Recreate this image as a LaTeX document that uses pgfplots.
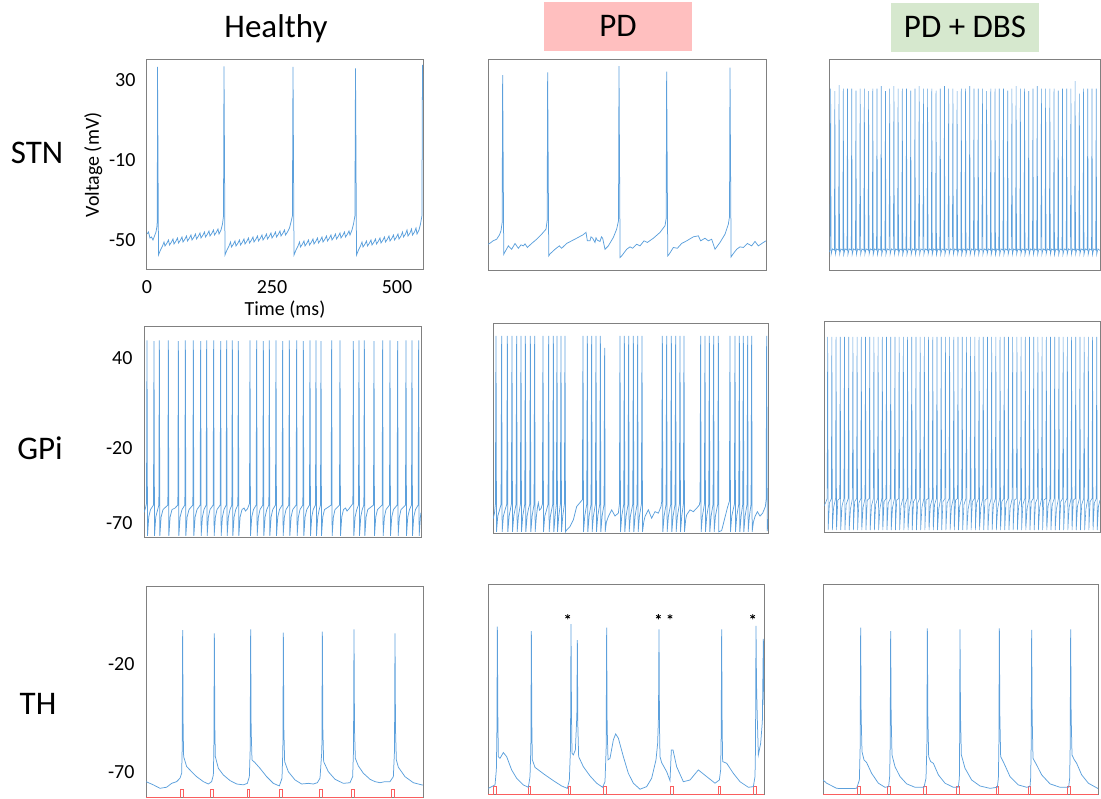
\documentclass[border=0pt]{standalone}
\usepackage{pgfplots}
\pgfplotsset{compat=1.18}
\usepackage{fontspec}
\setmainfont{Carlito}
\definecolor{trace}{RGB}{92,160,220}
\definecolor{framec}{RGB}{128,128,128}
\definecolor{pulse}{RGB}{250,95,95}
\definecolor{pdbox}{RGB}{255,191,191}
\definecolor{dbsbox}{RGB}{214,232,206}
\pgfplotsset{
  panel/.style={
    scale only axis, anchor=south west,
    axis line style={draw=framec, line width=1pt},
    xtick=\empty, ytick=\empty,
    major tick length=0pt,
    tick label style={font=\fontsize{20}{24}\selectfont},
    yticklabel style={xshift=-8pt},
    xticklabel style={yshift=-7pt},
    label style={font=\fontsize{20}{24}\selectfont},
  },
  tr/.style={draw=trace, line width=0.75pt, mark=none},
  trd/.style={draw=trace, line width=0.6pt, mark=none},
  pl/.style={draw=pulse, line width=0.75pt, mark=none},
}
\begin{document}
\begin{tikzpicture}
\path[use as bounding box] (0pt,0pt) rectangle (1101pt,799pt);
% titles
\node[anchor=base, font=\fontsize{33}{40}\selectfont] at (276pt,761pt) {Healthy};
\fill[pdbox] (544pt,748pt) rectangle (692pt,797pt);
\node[anchor=base, font=\fontsize{33}{40}\selectfont] at (618pt,762pt) {PD};
\fill[dbsbox] (891pt,747pt) rectangle (1039pt,796pt);
\node[anchor=base, font=\fontsize{33}{40}\selectfont] at (965pt,761pt) {PD + DBS};
% row labels
\node[anchor=base, font=\fontsize{33}{40}\selectfont] at (37pt,635pt) {STN};
\node[anchor=base, font=\fontsize{33}{40}\selectfont] at (40pt,339pt) {GPi};
\node[anchor=base, font=\fontsize{33}{40}\selectfont] at (38pt,84pt) {TH};

% ---------------- STN Healthy
\begin{axis}[panel, at={(147pt,529pt)}, width=276pt, height=210pt,
  xmin=0, xmax=552, ymin=-65, ymax=40,
  ytick={-50,-10,30}, yticklabels={-50,-10,30},
  xtick={0,250,500}, xticklabels={0,250,500},
  xlabel={Time (ms)}, ylabel={Voltage (mV)}]
\addplot[tr] coordinates {
(0,-47) (3,-46) (6,-49) (9,-48.5) (12,-50) (15,-48) (18,-46) (20,-43) (20.6,-40) (21,36.5) (21.8,0) (23,-57.5)
(27,-55) (31,-53) (34,-51) (36,-53) (40,-51.5) (43,-50) (45,-52.5) (49,-51) (52,-49.5) (54,-52) (58,-50.5) (61,-49) (63,-51.5) (67,-50) (70,-48.5) (72,-51) (76,-49.5) (79,-48) (81,-50.5) (85,-49) (88,-47.5) (90,-50) (94,-48.5) (97,-47) (99,-49.5) (103,-48) (106,-46.5) (108,-49) (112,-47.5) (115,-46) (117,-48.5) (121,-47) (124,-45.5) (126,-48) (130,-46.5) (133,-45) (135,-47.5) (139,-46) (142,-44.5) (144,-47) (148,-45) (151,-42) (153,-38) (154,36.8) (154.8,0) (156,-57.5)
(160,-55) (164,-53) (167,-51) (169,-53.5) (173,-52) (176,-50.5) (178,-53) (182,-51.5) (185,-50) (187,-52.5) (191,-51) (194,-49.5) (196,-52) (200,-50.5) (203,-49) (205,-51.5) (209,-50) (212,-48.5) (214,-51) (218,-49.5) (221,-48) (223,-50.5) (227,-49) (230,-47.5) (232,-50) (236,-48.5) (239,-47) (241,-49.5) (245,-48) (248,-46.5) (250,-49) (254,-47.5) (257,-46) (259,-48.5) (263,-47) (266,-45.5) (268,-48) (272,-46.5) (275,-45) (277,-47.5) (281,-46) (285,-44) (288,-41) (290.8,-38) (292,36.5) (292.8,0) (294,-57.5)
(298,-55) (302,-53) (305,-51) (307,-53.5) (311,-52) (314,-50.5) (316,-53) (320,-51.5) (323,-50) (325,-52.5) (329,-51) (332,-49.5) (334,-52) (338,-50.5) (341,-49) (343,-51.5) (347,-50) (350,-48.5) (352,-51) (356,-49.5) (359,-48) (361,-50.5) (365,-49) (368,-47.5) (370,-50) (374,-48.5) (377,-47) (379,-49.5) (383,-48) (386,-46.5) (388,-49) (392,-47.5) (395,-46) (397,-48.5) (401,-47) (404,-45.5) (406,-47.5) (410,-45) (413,-42) (415.8,-38) (417,35.8) (417.8,0) (419,-57.5)
(423,-55) (427,-53) (430,-51) (432,-53.5) (436,-52) (439,-50.5) (441,-53) (445,-51.5) (448,-50) (450,-52.5) (454,-51) (457,-49.5) (459,-52) (463,-50.5) (466,-49) (468,-51.5) (472,-50) (475,-48.5) (477,-51) (481,-49.5) (484,-48) (486,-50.5) (490,-49) (493,-47.5) (495,-50) (499,-48.5) (502,-47) (504,-49.5) (508,-48) (511,-46) (513,-48.5) (517,-47) (520,-45) (522,-48) (526,-46.5) (529,-44.5) (531,-47.5) (535,-46) (538,-44) (540,-47) (544,-45) (547,-42) (549.8,-38) (551,37.5) (552,20)
};
\end{axis}

% ---------------- STN PD
\begin{axis}[panel, at={(488pt,528pt)}, width=278pt, height=211pt,
  xmin=0, xmax=556, ymin=-65, ymax=40]
\addplot[tr] coordinates {
(0,-51.7) (5,-51) (10,-50) (17.3,-49.2) (23,-47) (26,-45) (28.3,-41)
(29.3,32.5) (30.1,0) (31.5,-56.7) (34,-55.5)
(40.7,-52.5) (47.3,-54.2) (54,-51.3) (60.7,-53.7) (66,-52) (70.7,-52.5) (74,-51.5) (78.7,-53.3) (87.3,-51.3) (97.3,-49.2) (107.3,-46.7) (116,-44.2) (118.3,-40)
(119.3,33.8) (120.1,0) (121.5,-57.5) (124,-56.5)
(134,-54.2) (142.7,-52.5) (147.3,-53.7) (157.3,-51.3) (167.3,-50) (177.3,-48.7) (190,-47) (196,-45.8) (198.7,-50) (204,-50) (206,-48) (209.3,-48.7) (214,-50.8) (216,-48.5) (218.7,-49.7) (224,-50.3) (227,-48) (229.3,-48.7) (234,-54.2) (240.7,-52.5) (250.7,-48.3) (257.3,-44.2) (261,-40)
(262,37) (262.8,0) (264.2,-58.3) (267.3,-57.5)
(277.3,-54.2) (284,-53) (289.3,-53.7) (297.3,-51.7) (304,-52.5) (312,-50) (318.7,-50.8) (330.7,-48.7) (344,-45.8) (354,-42.5) (356.3,-39)
(357.3,34.2) (358.1,0) (359.5,-57.5) (362.7,-56.5)
(370.7,-53.3) (378.7,-53.7) (387.3,-51.3) (397.3,-50) (410.7,-48) (420.7,-47.5) (425.3,-50) (434,-48.7) (440.7,-50) (447.3,-49.2) (454,-54.2) (464,-50.8) (474,-46.7) (480.7,-41.7) (483,-38)
(484,36.2) (484.8,0) (486.2,-58) (488.7,-57)
(497.3,-54.2) (504,-53) (510.7,-53.3) (518.7,-51.3) (527.3,-52.5) (534,-50.3) (540.7,-52.5) (550.7,-50.8) (556,-50)
};
\end{axis}

% ---------------- STN PD+DBS
\begin{axis}[panel, at={(829pt,528pt)}, width=271pt, height=211pt,
  xmin=0, xmax=542, ymin=-65, ymax=40]
\addplot[trd] coordinates {
(0,-55.5) (2.3,-54.6)
(3.3,25.8) (4.2,-56.8) (6.8,-54) (10.7,-54.6)
(11.7,24.5) (12.6,-56.8) (15.2,-54) (19.2,-54.6)
(20.2,27.5) (21.1,-56.8) (23.7,-54) (27.6,-54.6)
(28.6,25.8) (29.5,-56.8) (32.1,-54) (36,-54.6)
(37,25.8) (37.9,-56.8) (40.5,-54) (44.5,-54.6)
(45.5,25.8) (46.4,-56.8) (49,-54) (52.9,-54.6)
(53.9,24.8) (54.8,-56.8) (57.4,-54) (61.3,-54.6)
(62.3,25.8) (63.2,-56.8) (65.8,-54) (69.7,-54.6)
(70.7,25.8) (71.6,-56.8) (74.2,-54) (78.2,-54.6)
(79.2,24.5) (80.1,-56.8) (82.7,-54) (86.6,-54.6)
(87.6,25.8) (88.5,-56.8) (91.1,-54) (95,-54.6)
(96,25.8) (96.9,-56.8) (99.5,-54) (103.5,-54.6)
(104.5,27) (105.4,-56.8) (108,-54) (111.9,-54.6)
(112.9,24.5) (113.8,-56.8) (116.4,-54) (120.3,-54.6)
(121.3,25.8) (122.2,-56.8) (124.8,-54) (128.8,-54.6)
(129.8,27) (130.7,-56.8) (133.3,-54) (137.2,-54.6)
(138.2,25.8) (139.1,-56.8) (141.7,-54) (145.6,-54.6)
(146.6,25.8) (147.5,-56.8) (150.1,-54) (154,-54.6)
(155,25.8) (155.9,-56.8) (158.5,-54) (162.5,-54.6)
(163.5,24.8) (164.4,-56.8) (167,-54) (170.9,-54.6)
(171.9,25.8) (172.8,-56.8) (175.4,-54) (179.3,-54.6)
(180.3,27) (181.2,-56.8) (183.8,-54) (187.8,-54.6)
(188.8,25.8) (189.7,-56.8) (192.3,-54) (196.2,-54.6)
(197.2,25.8) (198.1,-56.8) (200.7,-54) (204.6,-54.6)
(205.6,25.8) (206.5,-56.8) (209.1,-54) (213.1,-54.6)
(214.1,24.8) (215,-56.8) (217.6,-54) (221.5,-54.6)
(222.5,25.8) (223.4,-56.8) (226,-54) (229.9,-54.6)
(230.9,27) (231.8,-56.8) (234.4,-54) (238.3,-54.6)
(239.3,25.8) (240.2,-56.8) (242.8,-54) (246.8,-54.6)
(247.8,25.8) (248.7,-56.8) (251.3,-54) (255.2,-54.6)
(256.2,24.5) (257.1,-56.8) (259.7,-54) (263.6,-54.6)
(264.6,25.8) (265.5,-56.8) (268.1,-54) (272.1,-54.6)
(273.1,25.8) (274,-56.8) (276.6,-54) (280.5,-54.6)
(281.5,27) (282.4,-56.8) (285,-54) (288.9,-54.6)
(289.9,25.8) (290.8,-56.8) (293.4,-54) (297.4,-54.6)
(298.4,25.8) (299.3,-56.8) (301.9,-54) (305.8,-54.6)
(306.8,25.8) (307.7,-56.8) (310.3,-54) (314.2,-54.6)
(315.2,24.5) (316.1,-56.8) (318.7,-54) (322.6,-54.6)
(323.6,25.8) (324.5,-56.8) (327.1,-54) (331.1,-54.6)
(332.1,25.8) (333,-56.8) (335.6,-54) (339.5,-54.6)
(340.5,25.8) (341.4,-56.8) (344,-54) (347.9,-54.6)
(348.9,25.8) (349.8,-56.8) (352.4,-54) (356.4,-54.6)
(357.4,24.8) (358.3,-56.8) (360.9,-54) (364.8,-54.6)
(365.8,25.8) (366.7,-56.8) (369.3,-54) (373.2,-54.6)
(374.2,27) (375.1,-56.8) (377.7,-54) (381.7,-54.6)
(382.7,25.8) (383.6,-56.8) (386.2,-54) (390.1,-54.6)
(391.1,25.8) (392,-56.8) (394.6,-54) (398.5,-54.6)
(399.5,24.5) (400.4,-56.8) (403,-54) (406.9,-54.6)
(407.9,25.8) (408.8,-56.8) (411.4,-54) (415.4,-54.6)
(416.4,27) (417.3,-56.8) (419.9,-54) (423.8,-54.6)
(424.8,25.8) (425.7,-56.8) (428.3,-54) (432.2,-54.6)
(433.2,25.8) (434.1,-56.8) (436.7,-54) (440.7,-54.6)
(441.7,25.8) (442.6,-56.8) (445.2,-54) (449.1,-54.6)
(450.1,25.8) (451,-56.8) (453.6,-54) (457.5,-54.6)
(458.5,24.8) (459.4,-56.8) (462,-54) (466,-54.6)
(467,25.8) (467.9,-56.8) (470.5,-54) (474.4,-54.6)
(475.4,25.8) (476.3,-56.8) (478.9,-54) (482.8,-54.6)
(483.8,25.8) (484.7,-56.8) (487.3,-54) (491.2,-54.6)
(492.2,29.5) (493.1,-56.8) (495.7,-54) (499.7,-54.6)
(500.7,23.3) (501.6,-56.8) (504.2,-54) (508.1,-54.6)
(509.1,25.8) (510,-56.8) (512.6,-54) (516.5,-54.6)
(517.5,25.8) (518.4,-56.8) (521,-54) (525,-54.6)
(526,25.8) (526.9,-56.8) (529.5,-54) (533.4,-54.6)
(534.4,25.8) (535.3,-56.8) (537.9,-54) (542,-54.8)
};
\end{axis}

% ---------------- GPi Healthy
\begin{axis}[panel, at={(144pt,261pt)}, width=277pt, height=211pt,
  xmin=0, xmax=554, ymin=-80, ymax=61,
  ytick={-70,-20,40}, yticklabels={-70,-20,40}]
\addplot[tr] coordinates {
(0,-63) (3,-60) (5,-57)
(6,52) (7,-78.5) (9.5,-66) (13,-61) (19,-58)
(20,51.5) (21,-78.5) (23.5,-66) (29.7,-58)
(30.7,52) (31.7,-78.5) (34.2,-66) (38,-61) (47.7,-58)
(48.7,52) (49.7,-78.5) (52.2,-66) (56,-61) (62,-60) (67.7,-58)
(68.7,51.5) (69.7,-78.5) (72.2,-66) (76,-61) (81.7,-58)
(82.7,52) (83.7,-78.5) (86.2,-66) (90,-61) (97.7,-58)
(98.7,52) (99.7,-78.5) (102.2,-66) (106,-61) (112.3,-58)
(113.3,51.5) (114.3,-78.5) (116.8,-66) (120,-61) (124.3,-58)
(125.3,52) (126.3,-78.5) (128.8,-66) (132,-61) (138.3,-58)
(139.3,52) (140.3,-78.5) (142.8,-66) (146,-61) (152.3,-58)
(153.3,51.5) (154.3,-78.5) (156.8,-66) (160,-61) (164.3,-58)
(165.3,52) (166.3,-78.5) (168.8,-66) (172,-61) (175.7,-58)
(176.7,52) (177.7,-78.5) (180.2,-66) (183.5,-61) (187.7,-58)
(188.7,51.5) (189.7,-78.5) (192.2,-66) (196,-61) (200,-60) (203,-62) (207,-60.5) (211,-57)
(212,52) (213,-78.5) (215.5,-66) (219,-61) (224.3,-58)
(225.3,52) (226.3,-78.5) (228.8,-66) (232,-61) (237.7,-58)
(238.7,51.5) (239.7,-78.5) (242.2,-66) (245.5,-61) (249.7,-58)
(250.7,52) (251.7,-78.5) (254.2,-66) (257.5,-61) (263,-58)
(264,52) (265,-78.5) (267.5,-66) (271,-61) (276.3,-58)
(277.3,51.5) (278.3,-78.5) (280.8,-66) (284,-61) (289.7,-58)
(290.7,52) (291.7,-78.5) (294.2,-66) (297.5,-61) (304.3,-58)
(305.3,52) (306.3,-78.5) (308.8,-66) (312,-61) (317.7,-58)
(318.7,51.5) (319.7,-78.5) (322.2,-66) (325.5,-61) (331,-58)
(332,52) (333,-78.5) (335.5,-66) (338.5,-61) (343,-58)
(344,52) (345,-78.5) (347.5,-66) (350.5,-61) (353,-58)
(354,51.5) (355,-78.5) (357.5,-66) (361,-61) (368,-59.5) (374.3,-58)
(375.3,52) (376.3,-78.5) (378.8,-66) (382,-61) (391,-58)
(392,52) (393,-78.5) (395.5,-66) (399,-61) (403,-60) (406,-62) (410,-60.5) (417.7,-57)
(418.7,51.5) (419.7,-78.5) (422.2,-66) (425.5,-61) (429,-58)
(430,52) (431,-78.5) (433.5,-66) (436.5,-61) (439.7,-58)
(440.7,52) (441.7,-78.5) (444.2,-66) (447.5,-61) (459,-58)
(460,51.5) (461,-78.5) (463.5,-66) (467,-61) (476.3,-58)
(477.3,52) (478.3,-78.5) (480.8,-66) (484,-61) (491,-58)
(492,52) (493,-78.5) (495.5,-66) (499,-61) (506.3,-58)
(507.3,51.5) (508.3,-78.5) (510.8,-66) (514,-61) (523,-58)
(524,52) (525,-78.5) (527.5,-66) (531,-61) (535,-58)
(536,52) (537,-78.5) (539.5,-66) (543,-61) (548.3,-58)
(549.3,52) (550.3,-78.5) (552.8,-66) (554,-63)
};
\end{axis}

% ---------------- GPi PD
\begin{axis}[panel, at={(493pt,265pt)}, width=275pt, height=210pt,
  xmin=0, xmax=550, ymin=-80, ymax=61]
\addplot[tr] coordinates {
(0,-70) (3,-66) (4.8,-60)
(6,53) (7,-78.5) (9.5,-68) (13,-64) (16.1,-60)
(17.3,53) (18.3,-78.5) (20.8,-68) (24,-64) (27.5,-60)
(28.7,53) (29.7,-78.5) (32.2,-68) (36.8,-60)
(38,53) (39,-78.5) (41.5,-68) (46.1,-60)
(47.3,53) (48.3,-78.5) (50.8,-68) (54.8,-60)
(56,53) (57,-78.5) (59.5,-68) (63.5,-60)
(64.7,53) (65.7,-78.5) (68.2,-68) (71,-63) (73.5,-60)
(74.7,53) (75.7,-78.5) (78.2,-68) (82.1,-60)
(83.3,53) (84.3,-78.5) (86.8,-68) (89,-62) (90.7,-59) (93,-64) (96,-63) (98.8,-60)
(100,53) (101,-78.5) (103.5,-68) (107,-64) (110.1,-60)
(111.3,53) (112.3,-78.5) (114.8,-68) (119.5,-60)
(120.7,53) (121.7,-78.5) (124.2,-68) (126.8,-60)
(128,53) (129,-78.5) (131.5,-68) (134.8,-60)
(136,53) (137,-78.5) (139.5,-68) (142.8,-60)
(144,53) (145,-78.5) (147.3,-77.3) (154,-75) (160.7,-70.5) (167.3,-61.6) (174,-58.9) (178.8,-57)
(180,53) (181,-78.5) (183.5,-68) (187.5,-60)
(188.7,53) (189.7,-78.5) (192.2,-68) (196.1,-60)
(197.3,53) (198.3,-78.5) (200.8,-68) (204.8,-60)
(206,53) (207,-78.5) (209.5,-68) (213.5,-60)
(214.7,53) (215.7,-78.5) (218.2,-68) (222.1,-60)
(223.3,45) (224.3,-78.5) (226.8,-72) (230.7,-68.3) (237.3,-63.8) (244,-67.9) (250.7,-66) (252.8,-60)
(254,53) (255,-78.5) (257.5,-68) (261.5,-60)
(262.7,53) (263.7,-78.5) (266.2,-68) (270.1,-60)
(271.3,53) (272.3,-78.5) (274.8,-68) (279.5,-60)
(280.7,53) (281.7,-78.5) (284.2,-68) (288.1,-60)
(289.3,53) (290.3,-78.5) (292.8,-68) (296.8,-60)
(298,53) (299,-78.5) (301.5,-72) (304,-68.3) (310.7,-63.8) (317.3,-69.4) (324,-65) (330.7,-66) (336,-61.6) (337.5,-58)
(338.7,53) (339.7,-78.5) (342.2,-68) (346.1,-60)
(347.3,53) (348.3,-78.5) (350.8,-68) (355.5,-60)
(356.7,53) (357.7,-78.5) (360.2,-68) (364.1,-60)
(365.3,53) (366.3,-78.5) (368.8,-68) (372.8,-60)
(374,53) (375,-78.5) (377.5,-68) (380.8,-60)
(382,53) (383,-78.5) (385.5,-70) (387.3,-67.2) (394,-63.8) (400.7,-65) (407.3,-62.7) (412.7,-60.5) (414.1,-58)
(415.3,53) (416.3,-78.5) (418.8,-68) (422.8,-60)
(424,53) (425,-78.5) (427.5,-68) (431.5,-60)
(432.7,53) (433.7,-78.5) (436.2,-68) (440.1,-60)
(441.3,53) (442.3,-78.5) (444.8,-68) (449.5,-60)
(450.7,53) (451.7,-78.5) (457.3,-77.7) (462.7,-70.5) (468.7,-62.5) (472.8,-58)
(474,53) (475,-78.5) (477.5,-68) (482.8,-60)
(484,53) (485,-78.5) (487.5,-68) (491.5,-60)
(492.7,53) (493.7,-78.5) (496.2,-68) (499.5,-60)
(500.7,53) (501.7,-78.5) (504.2,-68) (508.1,-60)
(509.3,53) (510.3,-78.5) (512.8,-68) (516.1,-60)
(517.3,53) (518.3,-78.5) (520.8,-72) (524,-68.3) (528.7,-65) (534,-68) (539.3,-66) (544.7,-61.6) (546.3,-57)
(547.3,53) (548.5,-78) (550,-70)
};
\end{axis}

% ---------------- GPi PD+DBS
\begin{axis}[panel, at={(824pt,266pt)}, width=276pt, height=211pt,
  xmin=0, xmax=552, ymin=-80, ymax=61]
\addplot[trd] coordinates {
(0,-62) (3,-60) (6.3,-57)
(7.3,51) (8.3,-78) (10.8,-60) (14.7,-57)
(15.7,51) (16.7,-78) (19.2,-63) (23.1,-57)
(24.1,51) (25.1,-78) (27.6,-58) (31.5,-57)
(32.5,51) (33.5,-78) (36,-62) (39.9,-57)
(40.9,51) (41.9,-78) (44.4,-61) (48.4,-57)
(49.4,51) (50.4,-78) (52.9,-64) (56.8,-57)
(57.8,51) (58.8,-78) (61.3,-59) (65.2,-57)
(66.2,51) (67.2,-78) (69.7,-60) (73.6,-57)
(74.6,51) (75.6,-78) (78.1,-63) (82,-57)
(83,51) (84,-78) (86.5,-58) (90.4,-57)
(91.4,51) (92.4,-78) (94.9,-62) (98.8,-57)
(99.8,51) (100.8,-78) (103.3,-61) (107.2,-57)
(108.2,51) (109.2,-78) (111.7,-64) (115.6,-57)
(116.6,51) (117.6,-78) (120.1,-59) (124,-57)
(125,51) (126,-78) (128.5,-60) (132.5,-57)
(133.5,51) (134.5,-78) (137,-63) (140.9,-57)
(141.9,51) (142.9,-78) (145.4,-58) (149.3,-57)
(150.3,51) (151.3,-78) (153.8,-62) (157.7,-57)
(158.7,51) (159.7,-78) (162.2,-61) (166.1,-57)
(167.1,51) (168.1,-78) (170.6,-64) (174.5,-57)
(175.5,51) (176.5,-78) (179,-59) (182.9,-57)
(183.9,51) (184.9,-78) (187.4,-60) (191.3,-57)
(192.3,51) (193.3,-78) (195.8,-63) (199.7,-57)
(200.7,51) (201.7,-78) (204.2,-58) (208.1,-57)
(209.1,51) (210.1,-78) (212.6,-62) (216.6,-57)
(217.6,51) (218.6,-78) (221.1,-61) (225,-57)
(226,51) (227,-78) (229.5,-64) (233.4,-57)
(234.4,51) (235.4,-78) (237.9,-59) (241.8,-57)
(242.8,51) (243.8,-78) (246.3,-60) (250.2,-57)
(251.2,51) (252.2,-78) (254.7,-63) (258.6,-57)
(259.6,51) (260.6,-78) (263.1,-58) (267,-57)
(268,51) (269,-78) (271.5,-62) (275.4,-57)
(276.4,51) (277.4,-78) (279.9,-61) (283.8,-57)
(284.8,51) (285.8,-78) (288.3,-64) (292.2,-57)
(293.2,51) (294.2,-78) (296.7,-59) (300.7,-57)
(301.7,51) (302.7,-78) (305.2,-60) (309.1,-57)
(310.1,51) (311.1,-78) (313.6,-63) (317.5,-57)
(318.5,51) (319.5,-78) (322,-58) (325.9,-57)
(326.9,51) (327.9,-78) (330.4,-62) (334.3,-57)
(335.3,51) (336.3,-78) (338.8,-61) (342.7,-57)
(343.7,51) (344.7,-78) (347.2,-64) (351.1,-57)
(352.1,51) (353.1,-78) (355.6,-59) (359.5,-57)
(360.5,51) (361.5,-78) (364,-60) (367.9,-57)
(368.9,51) (369.9,-78) (372.4,-63) (376.3,-57)
(377.3,51) (378.3,-78) (380.8,-58) (384.8,-57)
(385.8,51) (386.8,-78) (389.3,-62) (393.2,-57)
(394.2,51) (395.2,-78) (397.7,-61) (401.6,-57)
(402.6,51) (403.6,-78) (406.1,-64) (410,-57)
(411,51) (412,-78) (414.5,-59) (418.4,-57)
(419.4,51) (420.4,-78) (422.9,-60) (426.8,-57)
(427.8,51) (428.8,-78) (431.3,-63) (435.2,-57)
(436.2,51) (437.2,-78) (439.7,-58) (443.6,-57)
(444.6,51) (445.6,-78) (448.1,-62) (452,-57)
(453,51) (454,-78) (456.5,-61) (460.4,-57)
(461.4,51) (462.4,-78) (464.9,-64) (468.9,-57)
(469.9,51) (470.9,-78) (473.4,-59) (477.3,-57)
(478.3,51) (479.3,-78) (481.8,-60) (485.7,-57)
(486.7,51) (487.7,-78) (490.2,-63) (494.1,-57)
(495.1,51) (496.1,-78) (498.6,-58) (502.5,-57)
(503.5,51) (504.5,-78) (507,-62) (510.9,-57)
(511.9,51) (512.9,-78) (515.4,-61) (519.3,-57)
(520.3,51) (521.3,-78) (523.8,-64) (527.7,-57)
(528.7,51) (529.7,-78) (532.2,-59) (536.1,-57)
(537.1,51) (538.1,-78) (540.6,-60) (544.5,-57)
(545.5,51) (546.5,-78) (549,-62) (552,-58)
};
\end{axis}

% ---------------- TH Healthy
\begin{axis}[panel, at={(146pt,1pt)}, width=277pt, height=211pt,
  xmin=0, xmax=554, ymin=-82, ymax=16,
  ytick={-70,-20}, yticklabels={-70,-20}]
\addplot[pl] coordinates {
(0,-81.5) (68.6,-81.5) (68.6,-78) (74,-78) (74,-81.5) (128.6,-81.5) (128.6,-78) (134,-78) (134,-81.5) (202,-81.5) (202,-78) (207.4,-78) (207.4,-81.5) (267.3,-81.5) (267.3,-78) (272.7,-78) (272.7,-81.5) (346.6,-81.5) (346.6,-78) (352,-78) (352,-81.5) (410.6,-81.5) (410.6,-78) (416,-78) (416,-81.5) (490.6,-81.5) (490.6,-78) (496,-78) (496,-81.5) (554,-81.5)
};
\addplot[tr] coordinates {
(0,-74.4) (14.7,-75.9) (28,-77.5) (41.3,-77) (51.3,-75.2) (61.3,-74.4) (68,-72.8) (71.3,-70.5) (72.3,-60)
(73.3,-4) (74.3,-50) (75.3,-62.8) (81.3,-67.4) (91.3,-69.8) (101.3,-72.1) (114.7,-74.4) (124.7,-75.5) (131.3,-74.4) (134.7,-71.3) (135.7,-60)
(136.7,-5.5) (137.7,-50) (138.7,-62.8) (144.7,-68.2) (154.7,-71.3) (168,-73.9) (181.3,-75.5) (194.7,-75.9) (202.7,-75.2) (206.7,-72.1) (208.3,-60)
(209.3,-3.7) (210.3,-50) (212,-64.3) (218,-65.6) (228,-68.2) (241.3,-72.1) (254.7,-75.2) (266.7,-76.4) (272,-72.8) (273.7,-60)
(274.7,-5.2) (275.7,-50) (277.3,-65.1) (284.7,-69.8) (298,-73.6) (311.3,-75.5) (324.7,-75.2) (334.7,-75.5) (342.7,-74.9) (348,-72.8) (351.7,-60)
(352.7,-4.7) (353.7,-50) (355.3,-65.1) (364.7,-69.8) (378,-73.3) (394.7,-75.2) (408,-74.9) (413.3,-72.1) (415,-60)
(416,-3.7) (417,-50) (418.7,-63.6) (424.7,-67.1) (434.7,-70.5) (448,-73.3) (458,-74.4) (468,-74.9) (478,-74.4) (488,-74.4) (494.7,-72.1) (497,-60)
(498,-5.5) (499,-50) (500.7,-64.3) (504.7,-67.7) (518,-72.1) (534.7,-74.9) (551.3,-75.9) (554,-76)
};
\end{axis}

% ---------------- TH PD
\begin{axis}[panel, at={(488pt,4pt)}, width=276pt, height=210pt,
  xmin=0, xmax=552, ymin=-82, ymax=16]
\addplot[pl] coordinates {
(0,-81.5) (11.3,-81.5) (11.3,-78) (16.7,-78) (16.7,-81.5) (80,-81.5) (80,-78) (85.4,-78) (85.4,-81.5) (160,-81.5) (160,-78) (165.4,-78) (165.4,-81.5) (231.3,-81.5) (231.3,-78) (236.7,-78) (236.7,-81.5) (364.6,-81.5) (364.6,-78) (370,-78) (370,-81.5) (460,-81.5) (460,-78) (465.4,-78) (465.4,-81.5) (531.3,-81.5) (531.3,-78) (536.7,-78) (536.7,-81.5) (552,-81.5)
};
\addplot[tr] coordinates {
(0.7,-78.9) (7.3,-78.1) (14,-77.3) (16.7,-70.3) (17.7,-55)
(18.7,-3.4) (19.7,-45) (20.7,-64.1) (24,-64.9) (30.7,-62.2) (37.3,-64.1) (47.3,-70.3) (57.3,-74.2) (70.7,-77.3) (80.7,-78.4) (84,-73.4) (85.7,-60)
(86.7,-5.5) (87.7,-50) (88.7,-65.6) (94,-69.1) (100.7,-70.3) (114,-72.6) (130.7,-75.3) (147.3,-77.8) (158.7,-78.9) (162.7,-75) (165,-60)
(166,-2.3) (167,-45) (168,-62.5) (170.7,-63.3) (174.7,-61) (177.7,-45)
(178.7,-9.7) (179.7,-50) (181.3,-64.1) (190.7,-68.8) (204,-73.1) (217.3,-76.5) (229.3,-78.4) (234,-75.8) (236.3,-60)
(237.3,-3.9) (238.3,-50) (240,-65.6) (244,-64.9) (250.7,-56.3) (255.3,-53.5) (260.7,-55.5) (270.7,-64.1) (280.7,-71.9) (290.7,-76.5) (304,-79.3) (317.3,-78.1) (327.3,-74.2) (336,-65.6) (339.3,-57.9) (341,-45)
(342,-4.7) (343,-50) (344,-64.1) (347.3,-66.9) (357.3,-71.1) (364,-75.3) (366.7,-61) (370,-61) (377.3,-68.8) (390.7,-75.8) (404,-75) (420.7,-70.3) (437.3,-73.4) (454,-76.5) (462.7,-75) (465.3,-70.3) (466.3,-55)
(467.3,-4.7) (468.3,-50) (469.3,-66.4) (477.3,-67.2) (490.7,-71.9) (504,-75.8) (520.7,-78.4) (530.7,-78.1) (534,-73.4) (535,-60)
(536,-3.1) (537,-30) (538.7,-47) (540.7,-63.3) (545.3,-57.9) (548.7,-47.8) (550.7,-9.2) (552,-40)
};
\addplot[only marks, mark=asterisk, mark size=2.6pt, black, mark options={line width=0.8pt}] coordinates {
(159.3,1.2) (340.7,1.2) (364,1.2) (529.3,1.2)
};
\end{axis}

% ---------------- TH PD+DBS
\begin{axis}[panel, at={(823pt,4pt)}, width=275pt, height=210pt,
  xmin=0, xmax=550, ymin=-82, ymax=16]
\addplot[pl] coordinates {
(0,-81.5) (69.3,-81.5) (69.3,-78) (74.7,-78) (74.7,-81.5) (129.3,-81.5) (129.3,-78) (134.7,-78) (134.7,-81.5) (201.3,-81.5) (201.3,-78) (206.7,-78) (206.7,-81.5) (266.6,-81.5) (266.6,-78) (272,-78) (272,-81.5) (346,-81.5) (346,-78) (351.4,-78) (351.4,-81.5) (410,-81.5) (410,-78) (415.4,-78) (415.4,-81.5) (488.6,-81.5) (488.6,-78) (494,-78) (494,-81.5) (550,-81.5)
};
\addplot[tr] coordinates {
(0,-75) (7.3,-76.5) (27.3,-78.9) (47.3,-79) (67.3,-78.9) (72.7,-75) (74.3,-60)
(75.3,-3.9) (76.3,-45) (78,-61.8) (82,-65.6) (87.3,-66.9) (97.3,-71.9) (110.7,-76.5) (124,-78.4) (131.3,-78.1) (133.3,-73.4) (134.3,-60)
(135.3,-5.5) (136.3,-45) (138,-63.3) (144,-68.8) (154,-73.4) (167.3,-76.8) (184,-78.4) (202,-78.4) (206,-74.2) (207.7,-60)
(208.7,-4.2) (209.7,-45) (211.3,-64.1) (215.3,-66.4) (220.7,-67.2) (230.7,-72.6) (244,-76.5) (260.7,-78.4) (270.7,-78.4) (272.7,-74.2) (273.2,-60)
(274,-4.7) (275,-45) (276.7,-63.3) (284,-69.5) (297.3,-75) (314,-77.8) (334,-78.9) (348.7,-78.4) (350.7,-74.2) (351.7,-60)
(352.7,-4.2) (353.7,-45) (355.3,-64.1) (362,-67.2) (374,-73.4) (390.7,-77.3) (407.3,-78.4) (414,-78.1) (415.3,-74.2) (416.3,-60)
(417.3,-5) (418.3,-45) (420,-64.9) (427.3,-68) (437.3,-72.6) (454,-76.8) (474,-78.4) (491.3,-78.4) (493.3,-74.2) (494.3,-60)
(495.3,-4.7) (496.3,-45) (498,-63.3) (502,-65.3) (507.3,-67.2) (517.3,-72.6) (530.7,-76.5) (549.3,-78.9) (550,-79)
};
\end{axis}
\end{tikzpicture}
\end{document}
